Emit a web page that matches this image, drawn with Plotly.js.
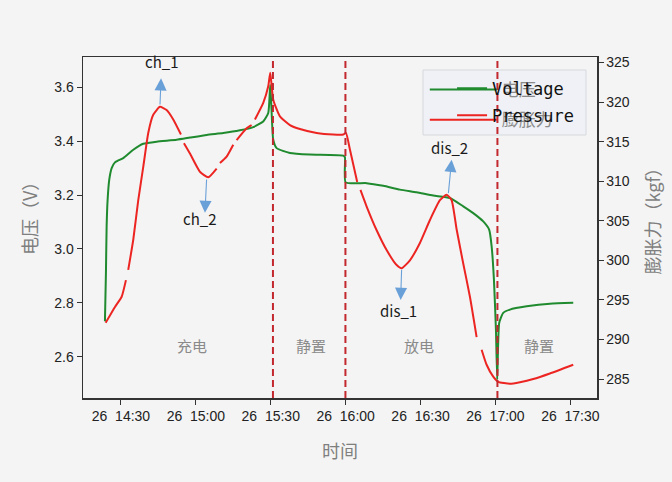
<!DOCTYPE html>
<html><head><meta charset="utf-8">
<script src="https://cdn.plot.ly/plotly-3.0.1.min.js"></script>
<style>html,body{margin:0;padding:0;background:#f4f4f4}</style>
</head><body><div id="chart" style="width:672px;height:482px"></div>
<script>
const day = '2023-06-26 ';

const voltageTimes = ['14:23:35','14:23:59','14:24:16','14:24:40','14:25:19','14:26:17','14:27:36','14:28:31','14:30:55','14:34:56','14:38:56','14:44:18','14:52:19','14:57:38','15:04:20','15:10:58','15:17:40','15:22:59','15:26:59','15:29:00','15:29:48','15:30:22','15:31:00','15:32:22','15:37:41','15:45:42','15:59:02','15:59:43','16:00:00','16:08:25','16:15:04','16:21:45','16:28:26','16:35:05','16:41:46','16:47:06','16:51:07','16:55:07','16:57:31','16:58:29','16:59:24','17:00:12','17:00:43','17:01:31','17:03:07','17:05:49','17:12:30','17:21:50','17:31:10'];
const voltageValues = [2.732,2.911,3.084,3.183,3.257,3.300,3.321,3.326,3.337,3.368,3.390,3.398,3.405,3.413,3.423,3.430,3.440,3.452,3.473,3.504,3.608,3.504,3.405,3.374,3.356,3.350,3.346,3.340,3.247,3.244,3.234,3.220,3.210,3.198,3.189,3.158,3.133,3.102,3.071,3.009,2.886,2.701,2.516,2.726,2.763,2.775,2.787,2.797,2.800];

const pressureTimes = ['14:23:52','14:27:36','14:30:17','14:32:00','14:32:27','14:32:55','14:34:56','14:36:56','14:38:56','14:40:56','14:42:56','14:45:37','14:48:18','14:50:57','14:54:02','14:54:38','14:55:14','14:57:38','15:01:38','15:04:58','15:08:20','15:09:00','15:09:39','15:12:20','15:14:59','15:15:40','15:16:20','15:20:21','15:22:21','15:23:00','15:23:40','15:27:00','15:29:00','15:29:48','15:31:00','15:33:41','15:37:41','15:41:41','15:48:23','15:55:02','15:59:02','16:00:07','16:01:43','16:04:38','16:05:17','16:05:56','16:08:25','16:12:25','16:16:25','16:20:26','16:22:26','16:25:45','16:29:45','16:33:46','16:37:46','16:40:27','16:42:27','16:44:28','16:47:06','16:49:47','16:52:28','16:53:28','16:54:28','16:56:28','16:59:07','17:01:07','17:05:49','17:09:49','17:15:08','17:21:50','17:31:10'];
const pressureValues = [292.1,294.1,295.4,297.5,null,298.8,302.6,307.6,311.8,316.1,318.4,319.4,319.0,317.8,315.9,null,314.8,313.5,311.2,310.5,311.6,null,312.3,313.1,314.6,null,315.2,316.7,317.1,null,317.8,319.9,322.0,323.7,320.3,318.2,317.1,316.6,316.1,315.9,315.9,316.1,314.0,309.9,null,308.9,306.8,303.8,301.3,299.4,299.0,300.0,302.2,305.1,307.6,308.3,307.6,303.9,299.6,295.4,290.3,null,288.7,286.8,285.3,284.65,284.4,284.6,285.0,285.7,286.8];

const phaseBoundaryTimes = ['15:30:53','15:59:55','17:00:48'];
const phaseNames = ['充电','静置','放电','静置'];
const phaseLabelTimes = ['14:58:19','15:45:59','16:29:22','17:17:25'];

const peakLabels = ['ch_1','ch_2','dis_1','dis_2'];
const peakTimes = ['14:45:37','15:04:20','16:22:26','16:41:06'];
const peakPressures = [319.5,310.4,299.0,308.3];
const arrowEndTimes = ['14:46:04','15:03:39','16:22:02','16:42:27'];
const arrowEndPressures = [323.0,306.0,295.0,312.7];
const labelTimes = ['14:46:18','15:01:22','16:21:21','16:41:30'];
const labelPressures = [325.1,305.3,293.6,314.3];

const seriesNames = ['Voltage','Pressure'];
const seriesNamesZh = ['电压','膨胀力'];
const axisTitles = {x: '时间', yLeft: '电压（V）', yRight: '膨胀力（kgf）'};
const xTickStart = '14:30:00';

const GREEN = '#1f8a2e', RED = '#ec2522';
const T = s => day + s;

const traces = [
  {x: voltageTimes.map(T), y: voltageValues, name: seriesNames[0], type: 'scatter', mode: 'lines',
   line: {color: GREEN, width: 2, shape: 'spline', smoothing: 0.5}, yaxis: 'y', legend: 'legend2', legendgroup: 'v2'},
  {x: pressureTimes.map(T), y: pressureValues, name: seriesNames[1], type: 'scatter', mode: 'lines',
   line: {color: RED, width: 2, shape: 'spline', smoothing: 0.5}, yaxis: 'y2', connectgaps: false, legend: 'legend2', legendgroup: 'p2'},
  {x: [null], y: [null], name: seriesNamesZh[0], type: 'scatter', mode: 'lines', line: {color: GREEN, width: 2},
   legend: 'legend', legendgroup: 'v1', hoverinfo: 'skip'},
  {x: [null], y: [null], name: seriesNamesZh[1], type: 'scatter', mode: 'lines', line: {color: RED, width: 2},
   legend: 'legend', legendgroup: 'p1', yaxis: 'y2', hoverinfo: 'skip'}
];

const shapes = [
  {type: 'rect', xref: 'paper', yref: 'paper', x0: 0.6615, x1: 0.9786, y0: 0.7713, y1: 0.9619,
   fillcolor: '#eff1f6', line: {color: '#d5d8dd', width: 1}, layer: 'below'}
];
phaseBoundaryTimes.forEach(t => shapes.push({type: 'line', xref: 'x', yref: 'paper', x0: T(t), x1: T(t), y0: 0, y1: 1,
  line: {color: '#c3282e', width: 2, dash: '7px,4px'}, layer: 'above'}));

const titleFont = {family: 'Noto Sans CJK SC', size: 18, color: '#7f7f7f'};
const annotations = [
  {xref: 'paper', yref: 'paper', x: -0.1051, y: 0.5396, text: axisTitles.yLeft, textangle: -90, showarrow: false,
   xanchor: 'center', yanchor: 'middle', font: titleFont},
  {xref: 'paper', yref: 'paper', x: 1.1064, y: 0.5317, text: axisTitles.yRight, textangle: -90, showarrow: false,
   xanchor: 'center', yanchor: 'middle', font: titleFont}
];
phaseNames.forEach((n, i) => annotations.push({x: T(phaseLabelTimes[i]), y: 2.642, xref: 'x', yref: 'y', text: n, showarrow: false,
  font: {family: 'Noto Sans CJK SC', size: 15, color: '#8a8a8a'}}));
peakLabels.forEach((n, i) => {
  annotations.push({x: T(arrowEndTimes[i]), y: arrowEndPressures[i], xref: 'x', yref: 'y2',
    ax: T(peakTimes[i]), ay: peakPressures[i], axref: 'x', ayref: 'y2', text: '', showarrow: true,
    arrowhead: 2, arrowsize: 2.2, arrowwidth: 1.1, arrowcolor: '#6aa0d8'});
  annotations.push({x: T(labelTimes[i]), y: labelPressures[i], xref: 'x', yref: 'y2', text: n, showarrow: false,
    font: {family: 'Noto Sans CJK SC', size: 15, color: '#1a1a1a'}});
});

const tickFont = {family: 'Liberation Sans', size: 14, color: '#222'};
const layout = {
  width: 672, height: 482,
  margin: {l: 83, r: 75, t: 57, b: 84},
  paper_bgcolor: '#f4f4f4', plot_bgcolor: '#f4f4f4',
  showlegend: true,
  xaxis: {type: 'date', range: [T('14:14:48'), T('17:40:41')], tick0: T(xTickStart), dtick: 1800000,
    tickformat: '%d\u00a0 %H:%M', ticks: 'outside', ticklen: 5, tickcolor: '#333', tickfont: tickFont,
    showline: true, linecolor: '#333', linewidth: 1.5, mirror: true, showgrid: false, zeroline: false,
    title: {text: axisTitles.x, font: titleFont, standoff: 22}},
  yaxis: {range: [2.447, 3.712], dtick: 0.2, tickformat: '.1f', ticks: 'outside', ticklen: 5, tickcolor: '#333',
    tickfont: tickFont, showline: true, linecolor: '#333', linewidth: 1.5, mirror: true, showgrid: false, zeroline: false},
  yaxis2: {overlaying: 'y', side: 'right', range: [282.6, 325.7], dtick: 5, ticks: 'outside', ticklen: 5, tickcolor: '#333',
    tickfont: tickFont, showline: true, linecolor: '#333', linewidth: 1.5, showgrid: false, zeroline: false},
  legend: {x: 0.665, y: 0.956, xanchor: 'left', yanchor: 'top', bgcolor: 'rgba(0,0,0,0)', borderwidth: 0,
    itemwidth: 67, traceorder: 'grouped', tracegroupgap: 5,
    font: {family: 'Noto Sans CJK SC', size: 17, color: '#8a8a8a'}},
  legend2: {x: 0.718, y: 0.96, xanchor: 'left', yanchor: 'top', bgcolor: 'rgba(0,0,0,0)', borderwidth: 0,
    traceorder: 'grouped', tracegroupgap: 2,
    font: {family: 'DejaVu Sans Mono', size: 17, color: '#111'}},
  shapes: shapes, annotations: annotations
};
Plotly.newPlot('chart', traces, layout, {displayModeBar: false, staticPlot: true});
</script></body></html>
